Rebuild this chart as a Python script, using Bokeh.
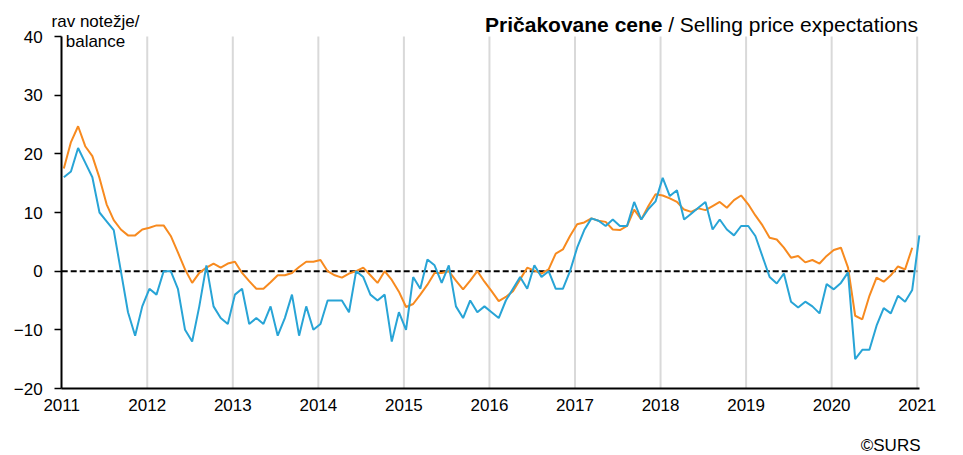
from bokeh.plotting import figure
from bokeh.models import Range1d, FixedTicker, Label
from bokeh.embed import file_html
from bokeh.resources import INLINE

# ---- data -------------------------------------------------------------
start_year = 2011
year_ticks = list(range(2011, 2022))
year_labels = {y: str(y) for y in year_ticks}
y_ticks = [-20, -10, 0, 10, 20, 30, 40]
y_min, y_max = -20, 40

# monthly balances, Jan 2011 .. Jan 2021 (blue) / Dec 2020 (orange)
series_blue = [
    16, 17, 21, 18.5, 16, 10, 8.5, 7, 0, -7, -11, -6,            # 2011
    -3, -4, 0, 0, -3, -10, -12, -6, 1, -6, -8, -9,               # 2012
    -4, -3, -9, -8, -9, -6, -11, -8, -4, -11, -6, -10,           # 2013
    -9, -5, -5, -5, -7, 0, -1, -4, -5, -4, -12, -7,              # 2014
    -10, -1, -3, 2, 1, -2, 1, -6, -8, -5, -7, -6,                # 2015
    -7, -8, -5, -3, -1, -3, 1, -1, 0, -3, -3, 0,                 # 2016
    4, 7, 9, 8.6, 7.7, 8.8, 7.7, 7.7, 11.8, 8.8, 10.6, 11.9,     # 2017
    15.9, 12.8, 13.8, 8.8, 9.8, 10.8, 11.8, 7.1, 8.8, 7.1, 6.1, 7.7,  # 2018
    7.7, 6, 2.5, -1, -2.1, -0.4, -5.2, -6.2, -5.2, -6, -7.2, -2.2,    # 2019
    -3.1, -2, -0.2, -15, -13.4, -13.4, -9.3, -6.3, -7.2, -4.2, -5.2, -3.2,  # 2020
    6.1,                                                          # 2021
]
series_orange = [
    17.5, 22, 24.7, 21.3, 19.6, 15.9, 11.4, 8.7, 7.1, 6.1, 6.1, 7.1,  # 2011
    7.4, 7.8, 7.8, 6.0, 3.2, 0.3, -2.0, -0.3, 0.6, 1.3, 0.6, 1.3,     # 2012
    1.6, -0.3, -1.7, -3.0, -3.0, -1.9, -0.7, -0.7, -0.3, 0.7, 1.6, 1.6,  # 2013
    1.9, 0, -0.7, -1.1, -0.4, 0, 0.6, -0.7, -2.0, 0, -1.5, -3.5,      # 2014
    -6.1, -5.6, -4.0, -2.3, -0.3, -0.3, 0, -1.6, -3.1, -1.6, 0, -1.8,  # 2015
    -3.4, -5.1, -4.4, -3.4, -1.4, 0.6, 0.1, -0.4, 0.3, 3.0, 3.7, 6.0,  # 2016
    8.0, 8.3, 9.0, 8.6, 8.4, 7.1, 7.0, 7.7, 10.5, 8.8, 11.1, 13.1,    # 2017
    12.9, 12.4, 11.8, 10.5, 10.1, 10.7, 10.4, 11.1, 11.8, 10.8, 12.1, 12.9,  # 2018
    11.4, 9.5, 7.8, 5.7, 5.4, 4.0, 2.3, 2.6, 1.5, 1.9, 1.3, 2.6,      # 2019
    3.6, 4.0, 0.6, -7.6, -8.2, -4.2, -1.1, -1.8, -0.7, 0.8, 0.3, 4.0,  # 2020
]

title_bold = "Pričakovane cene"
title_rest = "/ Selling price expectations"
unit_line1 = "rav notežje/"
unit_line2 = "balance"
credit = "©SURS"

# ---- layout / styling -------------------------------------------------
FONT = "Liberation Sans"
BLUE = "#28A4D6"
ORANGE = "#F78A1F"
month_shift = 0.3          # points sit slightly after the month boundary
x_end = 2021.03            # right end of the x axis

W, H = 963, 455
# plot area in page pixels: left 61.2 (2011) .. 916.7 (2021), top 36 (40) .. bottom 388 (-20)
px_per_year = (916.7 - 61.2) / 10
px_per_unit = (388 - 36) / (y_max - y_min)
x_lo = start_year - 61.2 / px_per_year
x_hi = start_year + (W - 61.2) / px_per_year
y_hi = y_max + 36 / px_per_unit
y_lo = y_min - (H - 388) / px_per_unit

x_blue = [start_year + (i + month_shift) / 12 for i in range(len(series_blue))]
x_orange = [start_year + (i + month_shift) / 12 for i in range(len(series_orange))]

p = figure(
    width=W, height=H,
    x_range=Range1d(x_lo, x_hi), y_range=Range1d(y_lo, y_hi),
    output_backend="svg", toolbar_location=None,
    min_border_left=0, min_border_right=0, min_border_top=0, min_border_bottom=0,
)
p.outline_line_color = None
p.background_fill_color = "white"
p.border_fill_color = "white"
p.xgrid.grid_line_color = None
p.ygrid.grid_line_color = None

# vertical year lines (light grey), limited to the value range
p.segment(x0=year_ticks[1:], y0=[y_min] * 10, x1=year_ticks[1:], y1=[y_max] * 10,
          line_color="#D9D9D9", line_width=2)

# zero line
p.segment(x0=[year_ticks[0]], y0=[0], x1=[year_ticks[-1]], y1=[0],
          line_color="black", line_width=2, line_dash="6 3")

# series
p.line(x_orange, series_orange, line_color=ORANGE, line_width=2)
p.line(x_blue, series_blue, line_color=BLUE, line_width=2)

# x axis (fixed at -20)
xa = p.xaxis[0]
xa.fixed_location = y_min
xa.bounds = (start_year, x_end)
xa.ticker = FixedTicker(ticks=year_ticks)
xa.major_label_overrides = year_labels
xa.axis_line_color = "black"
xa.axis_line_width = 2
xa.major_tick_out = 0
xa.major_tick_in = 0
xa.minor_tick_out = 0
xa.minor_tick_in = 0
xa.major_label_standoff = 10
xa.major_label_text_font = FONT
xa.major_label_text_font_size = "17px"
xa.major_label_text_color = "black"

# y axis (fixed at 2011)
ya = p.yaxis[0]
ya.fixed_location = start_year
ya.bounds = (y_min, y_max)
ya.ticker = FixedTicker(ticks=y_ticks)
ya.axis_line_color = "black"
ya.axis_line_width = 2
ya.major_tick_out = 7
ya.major_tick_in = 0
ya.major_tick_line_width = 1.5
ya.minor_tick_out = 0
ya.minor_tick_in = 0
ya.major_label_standoff = 12
ya.major_label_text_font = FONT
ya.major_label_text_font_size = "17px"
ya.major_label_text_color = "black"

# texts (screen units, origin bottom-left of the canvas)
def sy(page_y):
    return H - page_y

common = dict(x_units="screen", y_units="screen", text_baseline="alphabetic",
              text_font=FONT, text_color="black")
p.add_layout(Label(x=917.5, y=sy(23.5), text=title_rest, text_align="right",
                   text_font_size="21px", **common))
p.add_layout(Label(x=662, y=sy(23.5), text=title_bold, text_align="right",
                   text_font_size="21px", text_font_style="bold", **common))
p.add_layout(Label(x=95, y=sy(21), text=unit_line1, text_align="center",
                   text_font_size="17px", **common))
p.add_layout(Label(x=95, y=sy(41), text=unit_line2, text_align="center",
                   text_font_size="17px", **common))
p.add_layout(Label(x=920, y=sy(445), text=credit, text_align="right",
                   text_font_size="17px", **common))

open("out.html", "w").write(file_html(p, INLINE))
